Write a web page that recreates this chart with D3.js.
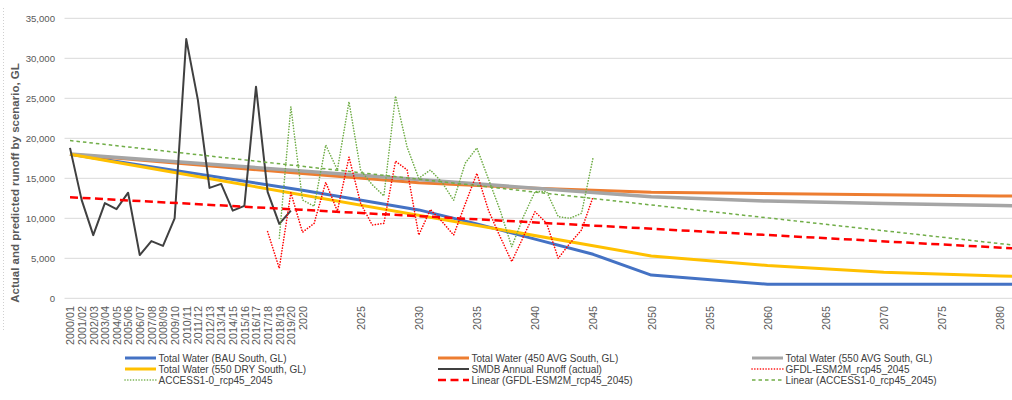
<!DOCTYPE html>
<html>
<head>
<meta charset="utf-8">
<script src="https://cdn.jsdelivr.net/npm/d3@7"></script>
<style>
  html, body { margin: 0; padding: 0; background: #ffffff; }
  svg { display: block; font-family: "Liberation Sans", Arial, sans-serif; }
</style>
</head>
<body>
<svg id="chart" width="1012" height="400"></svg>
<script>
// ---------- DATA ----------
const categories = [
  "2000/01","2001/02","2002/03","2003/04","2004/05","2005/06","2006/07","2007/08","2008/09","2009/10",
  "2010/11","2011/12","2012/13","2013/14","2014/15","2015/16","2016/17","2017/18","2018/19","2019/20",
  "2020","2021","2022","2023","2024","2025","2026","2027","2028","2029",
  "2030","2031","2032","2033","2034","2035","2036","2037","2038","2039",
  "2040","2041","2042","2043","2044","2045","2046","2047","2048","2049",
  "2050","2051","2052","2053","2054","2055","2056","2057","2058","2059",
  "2060","2061","2062","2063","2064","2065","2066","2067","2068","2069",
  "2070","2071","2072","2073","2074","2075","2076","2077","2078","2079",
  "2080","2081","2082","2083","2084","2085"
];
const tickLabels = [
  "2000/01","2001/02","2002/03","2003/04","2004/05","2005/06","2006/07","2007/08","2008/09","2009/10",
  "2010/11","2011/12","2012/13","2013/14","2014/15","2015/16","2016/17","2017/18","2018/19","2019/20",
  "2020","2025","2030","2035","2040","2045","2050","2055","2060","2065","2070","2075","2080"
];
const yTicks = [0, 5000, 10000, 15000, 20000, 25000, 30000, 35000];

const bauSouth = [["2000/01",18000],["2020",13500],["2030",11050],["2035",9300],["2040",7400],["2045",5500],["2050",2900],["2060",1750],["2070",1750],["2080",1750],["2085",1750]];
const avg450South = [["2000/01",18000],["2020",15600],["2030",14450],["2040",13750],["2050",13250],["2080",12800],["2085",12750]];
const avg550South = [["2000/01",18050],["2050",12700],["2060",12150],["2070",11850],["2080",11600],["2085",11500]];
const dry550South = [["2000/01",18000],["2050",5300],["2060",4100],["2070",3250],["2080",2800],["2085",2650]];

const smdbYears = categories.slice(0, 20);
const smdbValues = [18800,12300,7900,11900,11150,13200,5400,7150,6550,10000,32400,24800,13800,14300,10950,11550,26450,13300,9300,10950];

const gfdlYears = categories.slice(17, 46);
const gfdlValues = [8330,3750,13200,8250,9370,14500,10900,17650,11870,9160,9370,17150,16040,7910,11100,9600,7910,11800,15620,11000,7700,4580,7700,10830,9370,5000,6870,8540,12700];

const accessYears = categories.slice(18, 46);
const accessValues = [7500,23950,12290,11500,19160,16040,24580,16000,14200,12800,25290,18900,15000,16040,14500,12250,16900,18800,14900,11000,6450,10200,13330,13330,10200,10000,10620,17620];

const gfdlTrend = [["2000/01",12630],["2085",5940]];
const accessTrend = [["2000/01",19720],["2085",6030]];

const legendItems = [
  {name:"Total Water (BAU South, GL)", key:"bau"},
  {name:"Total Water (450 AVG South, GL)", key:"a450"},
  {name:"Total Water (550 AVG South, GL)", key:"a550"},
  {name:"Total Water (550 DRY South, GL)", key:"d550"},
  {name:"SMDB Annual Runoff (actual)", key:"smdb"},
  {name:"GFDL-ESM2M_rcp45_2045", key:"gfdl"},
  {name:"ACCESS1-0_rcp45_2045", key:"access"},
  {name:"Linear (GFDL-ESM2M_rcp45_2045)", key:"gfdlT"},
  {name:"Linear (ACCESS1-0_rcp45_2045)", key:"accessT"}
];

// ---------- STYLES ----------
const styles = {
  bau:    {stroke:"#4472c4", width:3,   dash:null},
  a450:   {stroke:"#ed7d31", width:3,   dash:null},
  a550:   {stroke:"#a5a5a5", width:3.5, dash:null},
  d550:   {stroke:"#ffc000", width:3,   dash:null},
  smdb:   {stroke:"#404040", width:2,   dash:null},
  gfdl:   {stroke:"#ff0000", width:1.6, dash:"0.1 2.7", cap:"round"},
  access: {stroke:"#70ad47", width:1.6, dash:"0.1 2.7", cap:"round"},
  gfdlT:  {stroke:"#ff0000", width:2.5, dash:"8 4.5"},
  accessT:{stroke:"#70ad47", width:1.5, dash:"3.5 3"}
};

// ---------- SCALES ----------
const svg = d3.select("#chart");
const step = 11.625;
const x = d3.scalePoint().domain(categories).range([70, 70 + (categories.length - 1) * step]);
const y = d3.scaleLinear().domain([0, 35000]).range([298.3, 18.3]);
const plotLeft = 64.5, plotRight = 1012;

// gridlines
svg.append("g").selectAll("line").data(yTicks).join("line")
  .attr("x1", plotLeft).attr("x2", plotRight)
  .attr("y1", d => y(d)).attr("y2", d => y(d))
  .attr("stroke", "#d9d9d9").attr("stroke-width", 1);

// chart border hint (dotted at left)
svg.append("line").attr("x1", 3.5).attr("x2", 3.5).attr("y1", 8).attr("y2", 330)
  .attr("stroke", "#d0d0d0").attr("stroke-dasharray", "1 2");

// y axis
const yAxis = d3.axisLeft(y).tickValues(yTicks).tickFormat(d3.format(",")).tickSize(0).tickPadding(0);
const yg = svg.append("g").attr("transform", "translate(55,0)").call(yAxis);
yg.select(".domain").remove();
yg.selectAll("text").attr("fill", "#595959").attr("font-size", "9.6px")
  .attr("font-family", "'Liberation Sans', Arial, sans-serif");

// x axis
const xAxis = d3.axisBottom(x).tickValues(tickLabels).tickSize(0).tickPadding(0);
const xg = svg.append("g").attr("transform", "translate(0,306)").call(xAxis);
xg.select(".domain").remove();
xg.selectAll("text")
  .attr("fill", "#595959").attr("font-size", "10.8px")
  .attr("font-family", "'Liberation Sans', Arial, sans-serif")
  .attr("text-anchor", "end")
  .attr("dy", "0.35em")
  .attr("transform", "rotate(-90)")
  .attr("x", 0).attr("y", 0);

// y title
svg.append("text")
  .attr("transform", "translate(19,183) rotate(-90)")
  .attr("text-anchor", "middle")
  .attr("fill", "#595959").attr("font-weight", "bold").attr("font-size", "11.5px")
  .text("Actual and predicted runoff by scenario, GL");

// ---------- LINES ----------
const line = d3.line().x(d => x(d[0])).y(d => y(d[1]));
const zip = (cats, vals) => cats.map((c, i) => [c, vals[i]]);

const seriesList = [
  {key:"bau", data:bauSouth},
  {key:"a450", data:avg450South},
  {key:"a550", data:avg550South},
  {key:"d550", data:dry550South},
  {key:"smdb", data:zip(smdbYears, smdbValues)},
  {key:"gfdl", data:zip(gfdlYears, gfdlValues)},
  {key:"access", data:zip(accessYears, accessValues)},
  {key:"gfdlT", data:gfdlTrend},
  {key:"accessT", data:accessTrend}
];

const lg = svg.append("g");
seriesList.forEach(s => {
  const st = styles[s.key];
  lg.append("path").datum(s.data)
    .attr("d", line)
    .attr("fill", "none")
    .attr("stroke", st.stroke)
    .attr("stroke-width", st.width)
    .attr("stroke-dasharray", st.dash)
    .attr("stroke-linecap", st.cap || "butt")
    .attr("stroke-linejoin", "round");
});

// ---------- LEGEND ----------
const colX = [125, 438, 752];
const rowY = [358, 369, 380];
const leg = svg.append("g");
legendItems.forEach((it, i) => {
  const c = i % 3, r = Math.floor(i / 3);
  const st = styles[it.key];
  const g = leg.append("g").attr("transform", `translate(${colX[c]},${rowY[r]})`);
  g.append("line").attr("x1", 0).attr("x2", 31).attr("y1", 0).attr("y2", 0)
    .attr("stroke", st.stroke)
    .attr("stroke-width", Math.min(st.width, 3))
    .attr("stroke-dasharray", st.dash)
    .attr("stroke-linecap", st.cap || "butt");
  g.append("text").attr("x", 33.5).attr("y", 0).attr("dy", "0.35em")
    .attr("fill", "#404040").attr("font-size", "10px")
    .text(it.name);
});
</script>
</body>
</html>
